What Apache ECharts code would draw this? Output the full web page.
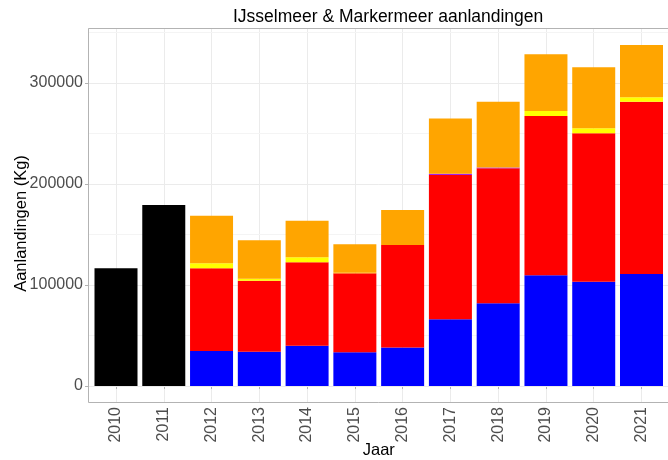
<!DOCTYPE html>
<html>
<head>
<meta charset="utf-8">
<title>IJsselmeer &amp; Markermeer aanlandingen</title>
<script src="https://cdn.jsdelivr.net/npm/echarts@6/dist/echarts.min.js"></script>
<style>
  html, body { margin: 0; padding: 0; background: #fff; }
  #chart { width: 668px; height: 460px; }
</style>
</head>
<body>
<div id="chart"></div>
<script>
// jaren op de x-as
const jaren = ['2010', '2011', '2012', '2013', '2014', '2015', '2016', '2017', '2018', '2019', '2020', '2021'];

// aanlandingen per laag (kg), van onder naar boven gestapeld
const totaalOud = [116500, 179200, null, null, null, null, null, null, null, null, null, null];
const blauw = [null, null, 34700, 34000, 39900, 33400, 38100, 66000, 81900, 109600, 103300, 110900];
const rood = [null, null, 81800, 70300, 82600, 78200, 101500, 142900, 133600, 157700, 146900, 170600];
const paars = [null, null, null, null, null, null, null, 1200, 800, null, null, null];
const geel = [null, null, 5000, 2000, 4900, 600, null, null, null, 5000, 4900, 4300];
const oranje = [null, null, 47000, 38100, 36300, 28200, 34700, 54600, 65200, 56100, 60400, 51800];

// labels op de y-as
const yLabels = [0, 100000, 200000, 300000];

const font = 'Liberation Sans, Arial, sans-serif';
const yMax = 354400;
const yMin = -16800;

const chart = echarts.init(document.getElementById('chart'), null, { renderer: 'canvas' });

// een gestapelde laag
function laag(naam, data, kleur) {
  return {
    name: naam,
    type: 'bar',
    stack: 'totaal',
    xAxisIndex: 1,
    yAxisIndex: 2,
    barWidth: 43,
    data: data,
    itemStyle: { color: kleur },
    emphasis: { disabled: true }
  };
}

const option = {
  animation: false,
  backgroundColor: '#fff',
  textStyle: { fontFamily: font },
  title: {
    text: 'IJsselmeer & Markermeer aanlandingen',
    left: 228,
    top: 3,
    textStyle: { fontFamily: font, fontSize: 17.5, fontWeight: 'normal', color: '#000' }
  },
  grid: [
    // paneel voor de horizontale rasterlijnen en y-labels (0 ligt op de onderrand)
    { left: 88, right: -3, top: 28, bottom: 74, outerBoundsMode: 'none', containLabel: false },
    // grid voor de staven: van midden eerste tot midden laatste jaar
    { left: 116, right: 26.5, top: 28, bottom: 57, outerBoundsMode: 'none', containLabel: false }
  ],
  graphic: [
    {
      type: 'rect',
      z: 50,
      silent: true,
      shape: { x: 88.5, y: 28.5, width: 583, height: 374 },
      style: { fill: null, stroke: '#b3b3b3', lineWidth: 1 }
    }
  ],
  xAxis: [
    { gridIndex: 0, type: 'value', show: false, min: 0, max: 1 },
    {
      gridIndex: 1,
      type: 'category',
      data: jaren,
      boundaryGap: false,
      name: 'Jaar',
      nameLocation: 'middle',
      nameGap: 39,
      nameMoveOverlap: false,
      nameTextStyle: { fontFamily: font, fontSize: 16.5, color: '#000' },
      axisLine: { show: false },
      axisTick: { show: true, length: 3, lineStyle: { color: '#b3b3b3' } },
      axisLabel: { rotate: 90, margin: 4, fontSize: 16, color: '#4d4d4d', fontFamily: font, interval: 0 },
      splitLine: { show: true, lineStyle: { color: '#ebebeb', width: 1 } }
    }
  ],
  yAxis: [
    {
      gridIndex: 0,
      type: 'value',
      min: 0,
      max: yMax,
      interval: 100000,
      axisLine: { show: false },
      axisTick: { show: true, length: 3, lineStyle: { color: '#b3b3b3' } },
      axisLabel: {
        margin: 5,
        fontSize: 16,
        color: '#4d4d4d',
        fontFamily: font,
        showMaxLabel: false,
        formatter: function (v) { return yLabels.indexOf(v) >= 0 ? String(v) : ''; }
      },
      splitLine: { show: true, lineStyle: { color: '#ebebeb', width: 1 } },
      z: 2
    },
    {
      // tussenlijnen (50000, 150000, ...)
      gridIndex: 0,
      type: 'value',
      min: 0,
      max: yMax,
      interval: 50000,
      axisLine: { show: false },
      axisTick: { show: false },
      axisLabel: { show: false },
      splitLine: { show: true, lineStyle: { color: '#f4f4f4', width: 1 } },
      z: 1
    },
    {
      gridIndex: 1,
      type: 'value',
      min: yMin,
      max: yMax,
      offset: 28,
      name: 'Aanlandingen (Kg)',
      nameLocation: 'middle',
      nameGap: 58,
      nameMoveOverlap: false,
      nameTextStyle: { fontFamily: font, fontSize: 16.5, color: '#000', padding: [0, 16, 0, 0] },
      axisLine: { show: false },
      axisTick: { show: false },
      axisLabel: { show: false },
      splitLine: { show: false }
    }
  ],
  series: [
    laag('totaal', totaalOud, '#000000'),
    laag('blauw', blauw, '#0000ff'),
    laag('rood', rood, '#ff0000'),
    laag('paars', paars, '#a020f0'),
    laag('geel', geel, '#ffff00'),
    laag('oranje', oranje, '#ffa500')
  ]
};

chart.setOption(option);
</script>
</body>
</html>
